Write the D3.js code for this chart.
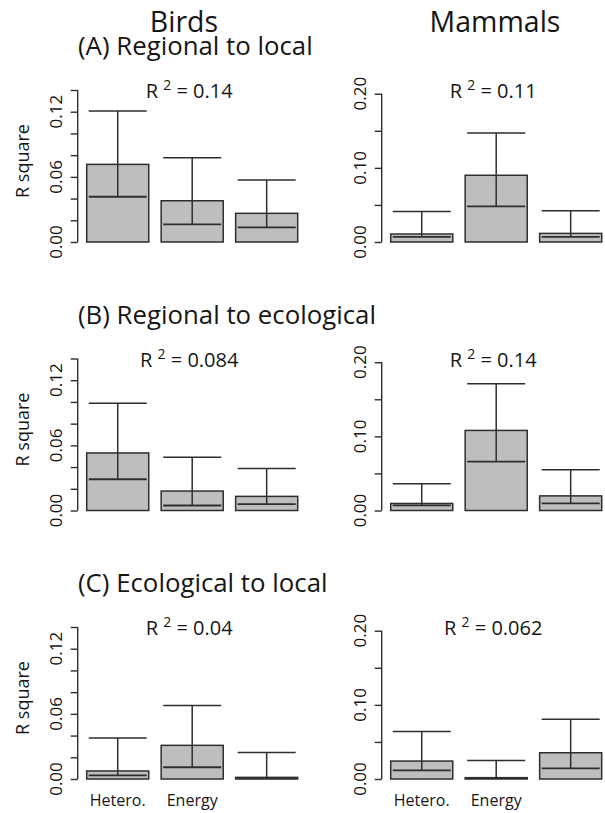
<!DOCTYPE html>
<html>
<head>
<meta charset="utf-8">
<script src="https://cdn.jsdelivr.net/npm/d3@7"></script>
<style>
  body { margin: 0; background: #fff; }
  svg text { font-family: "Open Sans", "Noto Sans", sans-serif; fill: #161616; font-weight: 500; }
</style>
</head>
<body>
<div id="viz-container"></div>
<script>
const categories = ["Hetero.", "Energy", ""];
const panelTitles = ["(A) Regional to local", "(B) Regional to ecological", "(C) Ecological to local"];
const columnNames = ["Birds", "Mammals"];

// bar = mean, line = median, whisker = upper bound (rows A, B, C)
const birdsMean = [[0.0715, 0.038, 0.0264], [0.053, 0.0179, 0.013], [0.0074, 0.031, 0.0015]];
const birdsMedian = [[0.0417, 0.0163, 0.0135], [0.0288, 0.0046, 0.0059], [0.0034, 0.0108, 0.001]];
const birdsUpper = [[0.1206, 0.0776, 0.057], [0.0988, 0.049, 0.0387], [0.0378, 0.0677, 0.0243]];
const birdsR2 = ["0.14", "0.084", "0.04"];

const mammalsMean = [[0.0108, 0.09, 0.0116], [0.0095, 0.108, 0.0197], [0.0242, 0.0018, 0.0354]];
const mammalsMedian = [[0.0068, 0.048, 0.007], [0.0068, 0.066, 0.0095], [0.0117, 0.0014, 0.0144]];
const mammalsUpper = [[0.041, 0.147, 0.042], [0.036, 0.171, 0.055], [0.064, 0.0251, 0.0807]];
const mammalsR2 = ["0.11", "0.14", "0.062"];

const birdsTicks = [0, 0.02, 0.04, 0.06, 0.08, 0.1, 0.12, 0.14];
const birdsLabels = [0, 0.06, 0.12];
const mammalsTicks = [0, 0.05, 0.1, 0.15, 0.2];
const mammalsLabels = [0, 0.1, 0.2];

const width = 605, height = 813;
const ink = "#2e2e2e";
const barFill = "#bebebe";

const svg = d3.select("#viz-container").append("svg")
  .attr("width", width).attr("height", height);

const rowZero = [242, 510.5, 779];
const plotH = 152;
const columns = [
  { name: columnNames[0], mean: birdsMean, median: birdsMedian, upper: birdsUpper, r2: birdsR2,
    ticks: birdsTicks, labels: birdsLabels, yMax: 0.14, x0: 86.7, x1: 297.7, headX: 184 },
  { name: columnNames[1], mean: mammalsMean, median: mammalsMedian, upper: mammalsUpper, r2: mammalsR2,
    ticks: mammalsTicks, labels: mammalsLabels, yMax: 0.205, x0: 390.7, x1: 601.7, headX: 495 },
];
const fmt = d3.format(".2f");

columns.forEach((col, ci) => {
  svg.append("text")
    .attr("x", col.headX).attr("y", 32)
    .attr("text-anchor", "middle")
    .style("font-size", "28.5px")
    .text(col.name);

  const x = d3.scaleBand()
    .domain(d3.range(categories.length))
    .range([col.x0, col.x1])
    .paddingInner(0.2 / 1.2)
    .paddingOuter(0);
  const axisX = col.x0 - 9;
  const bw = x.bandwidth();

  rowZero.forEach((zero, ri) => {
    const y = d3.scaleLinear().domain([0, col.yMax]).range([zero, zero - plotH]);
    const g = svg.append("g");

    if (ci === 0) {
      svg.append("text")
        .attr("x", 78).attr("y", zero - 187)
        .style("font-size", "25.8px")
        .text(panelTitles[ri]);
      svg.append("text")
        .attr("transform", `translate(29,${zero - 81}) rotate(-90)`)
        .attr("text-anchor", "middle")
        .style("font-size", "18px")
        .text("R square");
    }

    // y axis
    const axis = d3.axisLeft(y)
      .tickValues(col.ticks)
      .tickSize(7)
      .tickSizeOuter(0)
      .tickFormat(() => "");
    const ax = g.append("g").attr("transform", `translate(${axisX},0)`).call(axis);
    ax.select(".domain").remove();
    ax.selectAll(".tick line").attr("stroke", ink).attr("stroke-width", 1.4);
    ax.append("line")
      .attr("y1", y(0)).attr("y2", y(d3.max(col.ticks)))
      .attr("stroke", ink).attr("stroke-width", 1.4);
    col.labels.forEach((v) => {
      g.append("text")
        .attr("transform", `translate(${axisX - 15.5},${y(v)}) rotate(-90)`)
        .attr("text-anchor", "middle")
        .style("font-size", "17px")
        .text(fmt(v));
    });

    // R^2 label
    const r2 = g.append("text")
      .attr("x", (col.x0 + col.x1) / 2 - 3)
      .attr("y", zero - 144)
      .attr("text-anchor", "middle")
      .style("font-size", "20px");
    r2.append("tspan").text("R ");
    r2.append("tspan").attr("dy", -8).style("font-size", "14px").text("2");
    r2.append("tspan").attr("dy", 8).text(" = " + col.r2[ri]);

    const idx = d3.range(categories.length);
    g.selectAll("rect.bar").data(idx).join("rect")
      .attr("class", "bar")
      .attr("x", (i) => x(i))
      .attr("y", (i) => y(col.mean[ri][i]))
      .attr("width", bw)
      .attr("height", (i) => y(0) - y(col.mean[ri][i]))
      .attr("fill", barFill)
      .attr("stroke", ink)
      .attr("stroke-width", 1.5);

    g.selectAll("line.med").data(idx).join("line")
      .attr("class", "med")
      .attr("x1", (i) => x(i) + 2).attr("x2", (i) => x(i) + bw - 2)
      .attr("y1", (i) => y(col.median[ri][i])).attr("y2", (i) => y(col.median[ri][i]))
      .attr("stroke", ink).attr("stroke-width", 1.8);

    g.selectAll("line.whisk").data(idx).join("line")
      .attr("class", "whisk")
      .attr("x1", (i) => x(i) + bw / 2).attr("x2", (i) => x(i) + bw / 2)
      .attr("y1", (i) => y(col.median[ri][i])).attr("y2", (i) => y(col.upper[ri][i]))
      .attr("stroke", ink).attr("stroke-width", 1.5);

    g.selectAll("line.cap").data(idx).join("line")
      .attr("class", "cap")
      .attr("x1", (i) => x(i) + 2).attr("x2", (i) => x(i) + bw - 2)
      .attr("y1", (i) => y(col.upper[ri][i])).attr("y2", (i) => y(col.upper[ri][i]))
      .attr("stroke", ink).attr("stroke-width", 1.5);

    if (ri === rowZero.length - 1) {
      g.selectAll("text.cat").data(idx).join("text")
        .attr("class", "cat")
        .attr("x", (i) => x(i) + bw / 2)
        .attr("y", 806)
        .attr("text-anchor", "middle")
        .style("font-size", "16px")
        .text((i) => categories[i]);
    }
  });
});
</script>
</body>
</html>
